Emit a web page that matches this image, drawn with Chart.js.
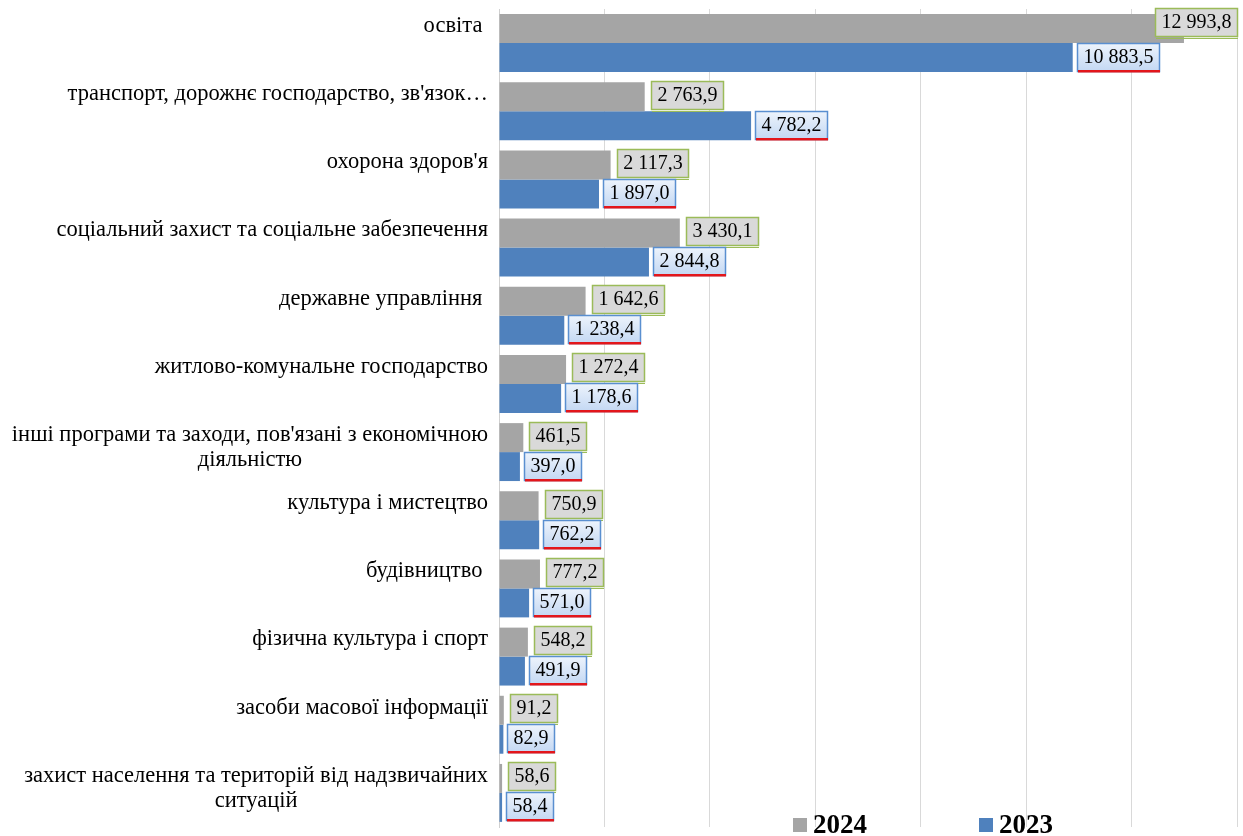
<!DOCTYPE html>
<html>
<head>
<meta charset="utf-8">
<script src="https://cdn.jsdelivr.net/npm/chart.js@4.4.1/dist/chart.umd.min.js"></script>
<style>
  html, body { margin: 0; padding: 0; background: #fff; }
</style>
</head>
<body>
<canvas id="budgetChart" width="1243" height="836"></canvas>
<script>
// categories, top to bottom
const categories = [
  'освіта ',
  'транспорт, дорожнє господарство, зв\'язок…',
  'охорона здоров\'я',
  'соціальний захист та соціальне забезпечення',
  'державне управління ',
  'житлово-комунальне господарство',
  ['інші програми та заходи, пов\'язані з економічною', 'діяльністю'],
  'культура і мистецтво',
  'будівництво ',
  'фізична культура і спорт',
  'засоби масової інформації',
  ['захист населення та територій від надзвичайних', 'ситуацій']
];
const values2024 = [12993.8, 2763.9, 2117.3, 3430.1, 1642.6, 1272.4, 461.5, 750.9, 777.2, 548.2, 91.2, 58.6];
const values2023 = [10883.5, 4782.2, 1897.0, 2844.8, 1238.4, 1178.6, 397.0, 762.2, 571.0, 491.9, 82.9, 58.4];
const seriesNames = ['2024', '2023'];
const seriesColors = ['#a5a5a5', '#4f81bd'];
const axisMax = 14000;
const axisStep = 2000;

const serif = "'Liberation Serif', 'Times New Roman', serif";

function fmt(v) {
  let parts = v.toFixed(1).split('.');
  let int = parts[0].replace(/\B(?=(\d{3})+(?!\d))/g, ' ');
  return int + ',' + parts[1];
}

// category labels: block right aligned, lines centered inside the block
const categoryLabels = {
  id: 'categoryLabels',
  afterDraw(chart) {
    const ctx = chart.ctx;
    const y = chart.scales.y;
    const band = y.getPixelForTick(1) - y.getPixelForTick(0);
    const right = chart.chartArea.left - 11;
    ctx.save();
    ctx.font = '22.5px ' + serif;
    ctx.fillStyle = '#000';
    ctx.textBaseline = 'middle';
    ctx.textAlign = 'center';
    categories.forEach((c, i) => {
      const lines = Array.isArray(c) ? c : [c];
      const w = Math.max(...lines.map(l => ctx.measureText(l).width));
      const top = y.getPixelForTick(i) - band / 2;
      lines.forEach((l, k) => {
        ctx.fillText(l, right - w / 2, top + 17 + k * 25.5);
      });
    });
    ctx.restore();
  }
};

// value boxes next to bars
const valueBoxes = {
  id: 'valueBoxes',
  afterDatasetsDraw(chart) {
    const ctx = chart.ctx;
    ctx.save();
    ctx.font = '20px ' + serif;
    ctx.textAlign = 'center';
    ctx.textBaseline = 'middle';
    chart.data.datasets.forEach((ds, di) => {
      const meta = chart.getDatasetMeta(di);
      meta.data.forEach((bar, i) => {
        const txt = fmt(ds.data[i]);
        const w = Math.round(ctx.measureText(txt).width + 12);
        const h = 28;
        let x0 = Math.round(bar.x + (di === 0 ? 6 : 4));
        let cy = bar.y + (di === 0 ? -2 : -1);
        if (x0 + w > chart.chartArea.right) {
          x0 = Math.round(chart.chartArea.right - w);
          cy -= 5;
        }
        const y0 = Math.round(cy - h / 2);
        if (di === 0) {
          ctx.fillStyle = '#d9d9d9';
          ctx.fillRect(x0, y0, w, h);
          ctx.strokeStyle = '#9bbb59';
          ctx.lineWidth = 1.5;
          ctx.strokeRect(x0 + 0.5, y0 + 0.5, w, h);
          ctx.beginPath();
          ctx.moveTo(x0 + 1, y0 + h + 2.5);
          ctx.lineTo(x0 + w + 1, y0 + h + 2.5);
          ctx.lineWidth = 1;
          ctx.stroke();
        } else {
          const g = ctx.createLinearGradient(0, y0, 0, y0 + h);
          g.addColorStop(0, '#eef4fc');
          g.addColorStop(1, '#c4d8f3');
          ctx.fillStyle = g;
          ctx.fillRect(x0, y0, w, h);
          ctx.strokeStyle = '#5a8fd0';
          ctx.lineWidth = 1.5;
          ctx.strokeRect(x0 + 0.5, y0 + 0.5, w, h);
          ctx.fillStyle = '#e3161b';
          ctx.fillRect(x0 + 1, y0 + h - 1, w, 2.5);
        }
        ctx.fillStyle = '#000';
        ctx.fillText(txt, x0 + w / 2 + 0.5, y0 + h / 2 + 1);
      });
    });
    ctx.restore();
  }
};

// legend drawn over the bottom of the plot
const bottomLegend = {
  id: 'bottomLegend',
  afterDraw(chart) {
    const ctx = chart.ctx;
    const starts = [793, 979];
    const base = 833;
    ctx.save();
    ctx.font = 'bold 27px ' + serif;
    ctx.textBaseline = 'alphabetic';
    ctx.textAlign = 'left';
    chart.data.datasets.forEach((ds, i) => {
      ctx.fillStyle = ds.backgroundColor;
      ctx.fillRect(starts[i], base - 15, 14, 14);
      ctx.fillStyle = '#000';
      ctx.fillText(ds.label, starts[i] + 20, base);
    });
    ctx.restore();
  }
};

new Chart(document.getElementById('budgetChart'), {
  type: 'bar',
  data: {
    labels: categories,
    datasets: [
      { label: seriesNames[0], data: values2024, backgroundColor: seriesColors[0] },
      { label: seriesNames[1], data: values2023, backgroundColor: seriesColors[1] }
    ]
  },
  options: {
    indexAxis: 'y',
    responsive: false,
    animation: false,
    devicePixelRatio: 1,
    layout: { padding: { top: 9, right: 6, left: 0, bottom: 0 } },
    datasets: { bar: { categoryPercentage: 0.85, barPercentage: 1, borderWidth: 0 } },
    plugins: { legend: { display: false }, tooltip: { enabled: false } },
    scales: {
      x: {
        min: 0,
        max: axisMax,
        ticks: { display: false, stepSize: axisStep },
        grid: { color: '#d9d9d9', drawTicks: false },
        border: { display: false },
        afterFit(scale) { scale.height = 9; }
      },
      y: {
        ticks: { display: false },
        grid: { display: false, drawTicks: false },
        border: { color: '#d0d0d0' },
        afterFit(scale) { scale.width = 499; }
      }
    }
  },
  plugins: [categoryLabels, valueBoxes, bottomLegend]
});
</script>
</body>
</html>
